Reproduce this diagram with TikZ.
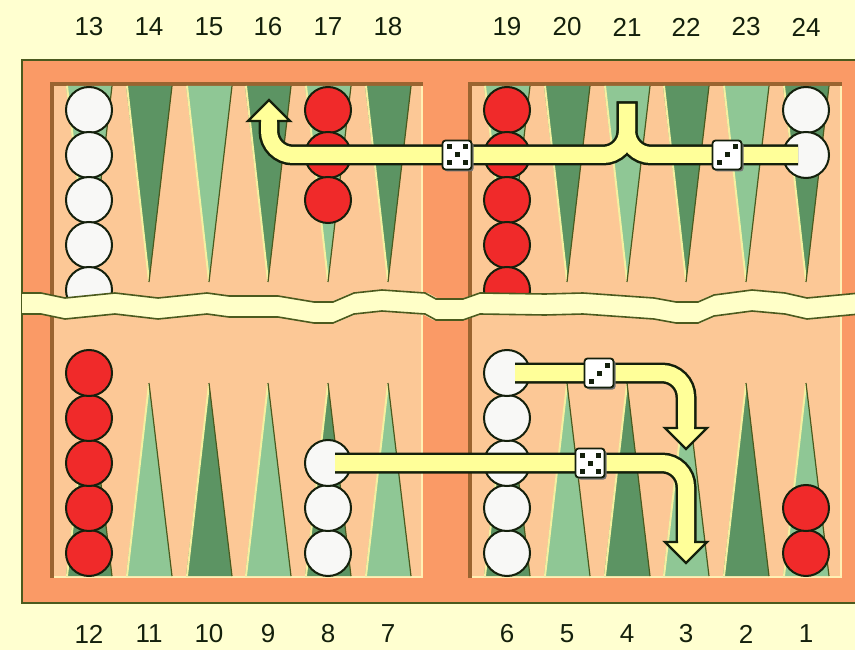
\documentclass[tikz,border=0pt]{standalone}
\usepackage{fontspec}
\setmainfont{Liberation Sans}
\usepackage{xcolor}
\usepackage{tikz}
\usetikzlibrary{shadows}

\definecolor{bgyel}{HTML}{FFFFD0}
\definecolor{stripy}{HTML}{FFFFC8}
\definecolor{frameor}{HTML}{FA9A66}
\definecolor{fieldpc}{HTML}{FCC896}
\definecolor{fieldsh}{HTML}{9A6430}
\definecolor{fieldhl}{HTML}{FFF0B4}
\definecolor{edgegr}{HTML}{4B5A1E}
\definecolor{darkpt}{HTML}{5C9463}
\definecolor{litept}{HTML}{8FC795}
\definecolor{pthl}{HTML}{F4F0A0}
\definecolor{bandyl}{HTML}{FFFF99}
\definecolor{chkred}{HTML}{F02A2A}
\definecolor{chkwht}{HTML}{F8F8F6}
\definecolor{inkdk}{HTML}{14200C}

\newcommand{\boardbreak}{(22,293) -- (41,293) -- (65,298) -- (115,293) -- (158,298) -- (207,293) -- (229,296) -- (278,296) -- (314,302) -- (333,302) -- (354,293) -- (382,290) -- (425,293) -- (436,299) -- (463,299) -- (480,293) -- (545,294) -- (583,293) -- (654,298) -- (676,302) -- (698,302) -- (714,295) -- (752,290) -- (785,293) -- (807,298) -- (860,293)}

\begin{document}
\begin{tikzpicture}[x=1pt, y=-1pt,
    chkw/.style={circle, draw=inkdk, fill=chkwht, line width=2pt, minimum size=46pt, inner sep=0pt},
    chkr/.style={chkw, fill=chkred},
    dice/.style={draw=inkdk, fill=white, rounded corners=3pt, minimum size=29pt, inner sep=0pt, line width=1.8pt,
        drop shadow={shadow xshift=2pt, shadow yshift=-2pt, fill=black!55, opacity=1}},
    moveedge/.style={draw=inkdk, line width=21pt, rounded corners=24pt},
    movefill/.style={draw=bandyl, line width=16pt, rounded corners=24pt},
    num/.style={font=\fontsize{26}{30}\selectfont, text=inkdk},
    arrowhd/.pic={
      \fill[bandyl] (-21,0) -- (21,0) -- (0,21) -- cycle;
      \draw[inkdk, line width=2.4pt] (8,0) -- (21,0) -- (0,21) -- (-21,0) -- (-8,0);
    }]
    \useasboundingbox (0,0) rectangle (855,650);
    \fill[bgyel] (0,0) rectangle (855,650);

    % frame and the two halves
    \filldraw[fill=frameor, draw=edgegr, line width=2pt] (22,60) rectangle (870,603);
    \fill[fieldpc] (50,82) rectangle (423,578);
    \fill[fieldpc] (468,82) rectangle (842,578);
    \draw[fieldhl, line width=2pt] (422,82) -- (422,577) -- (50,577);
    \draw[fieldhl, line width=2pt] (841,82) -- (841,577) -- (468,577);
    \draw[fieldsh, line width=4pt] (52,578) -- (52,84) -- (423,84);
    \draw[fieldsh, line width=4pt] (470,578) -- (470,84) -- (842,84);

    % points, top row
    \foreach \n/\px/\c in {13/89/litept,14/149/darkpt,15/209/litept,16/268/darkpt,17/328/litept,18/388/darkpt,
                           19/507/litept,20/567/darkpt,21/627/litept,22/686/darkpt,23/746/litept,24/806/darkpt}{
      \fill[\c] (\px-23,86) -- (\px+23,86) -- (\px,282) -- cycle;
      \draw[pthl, line width=2pt] (\px-22,86) -- (\px,281);
      \draw[edgegr, line width=1.2pt] (\px+23,86) -- (\px,282);
      \node[num] (t\n) at (\px,27) {\n};
    }
    % points, bottom row
    \foreach \n/\px/\c in {12/89/darkpt,11/149/litept,10/209/darkpt,9/268/litept,8/328/darkpt,7/388/litept,
                           6/507/darkpt,5/567/litept,4/627/darkpt,3/686/litept,2/746/darkpt,1/806/litept}{
      \fill[\c] (\px-23,576) -- (\px+23,576) -- (\px,383) -- cycle;
      \draw[pthl, line width=2pt] (\px-22,576) -- (\px,384);
      \draw[edgegr, line width=1.2pt] (\px+23,576) -- (\px,383);
      \node[num] (b\n) at (\px,634) {\n};
    }

    % checkers
    \foreach \i in {1,...,5} \node[chkw] (w13-\i) at (89,65+45*\i) {};
    \foreach \i in {1,2,3} \node[chkr] (r17-\i) at (328,65+45*\i) {};
    \foreach \i in {1,...,5} \node[chkr] (r19-\i) at (507,65+45*\i) {};
    \foreach \i in {1,2} \node[chkw] (w24-\i) at (806,65+45*\i) {};
    \foreach \i in {1,...,5} \node[chkr] (r12-\i) at (89,598-45*\i) {};
    \foreach \i in {1,2,3} \node[chkw] (w8-\i) at (328,598-45*\i) {};
    \foreach \i in {1,...,5} \node[chkw] (w6-\i) at (507,598-45*\i) {};
    \foreach \i in {1,2} \node[chkr] (r1-\i) at (806,598-45*\i) {};

    % broken middle of the board
    \draw[stripy, line width=21pt, yshift=-10.5pt] \boardbreak;
    \draw[edgegr, line width=1.6pt] \boardbreak;
    \draw[edgegr, line width=1.6pt, yshift=-21pt] \boardbreak;

    % moves
    \coordinate (top21) at (627,104);
    \coordinate (h16) at (269,121);
    \coordinate (h3a) at (686,428);
    \coordinate (h3b) at (686,542);
    \coordinate (c5) at (457,155);
    \coordinate (c3) at (727,155);
    \coordinate (cA) at (599,373);
    \coordinate (cB) at (590,463);
    \draw[moveedge] ([yshift=2.5pt]top21) |- (c3) -- ([xshift=-8pt]w24-2.center);
    \draw[moveedge] ([yshift=2.5pt]top21) |- (c5) -| (h16);
    \draw[movefill] (top21) |- (c3) -- ([xshift=-8pt]w24-2.center);
    \draw[movefill] (top21) |- (c5) -| (h16);
    \draw[moveedge] ([xshift=8pt]w6-5.center) -- (cA) -| (h3a);
    \draw[movefill] ([xshift=8pt]w6-5.center) -- (cA) -| (h3a);
    \draw[moveedge] ([xshift=7pt]w8-3.center) -- (cB) -| (h3b);
    \draw[movefill] ([xshift=7pt]w8-3.center) -- (cB) -| (h3b);
    \pic[rotate=180] at (h16) {arrowhd};
    \pic at (h3a) {arrowhd};
    \pic at (h3b) {arrowhd};

    % dice
    \node[dice] (d5) at (c5) {};
    \node[dice] (d3) at (c3) {};
    \node[dice] (dA) at (cA) {};
    \node[dice] (dB) at (cB) {};
    \foreach \dx/\dy in {-8/-8,8/-8,0/0,-8/8,8/8}{
      \fill[inkdk] ([shift={(\dx,\dy)}]d5) +(-2.5,-2.5) rectangle +(2.5,2.5);
      \fill[inkdk] ([shift={(\dx,\dy)}]dB) +(-2.5,-2.5) rectangle +(2.5,2.5);
    }
    \foreach \dx/\dy in {8/-8,0/0,-8/8}{
      \fill[inkdk] ([shift={(\dx,\dy)}]d3) +(-2.5,-2.5) rectangle +(2.5,2.5);
      \fill[inkdk] ([shift={(\dx,\dy)}]dA) +(-2.5,-2.5) rectangle +(2.5,2.5);
    }
\end{tikzpicture}
\end{document}
